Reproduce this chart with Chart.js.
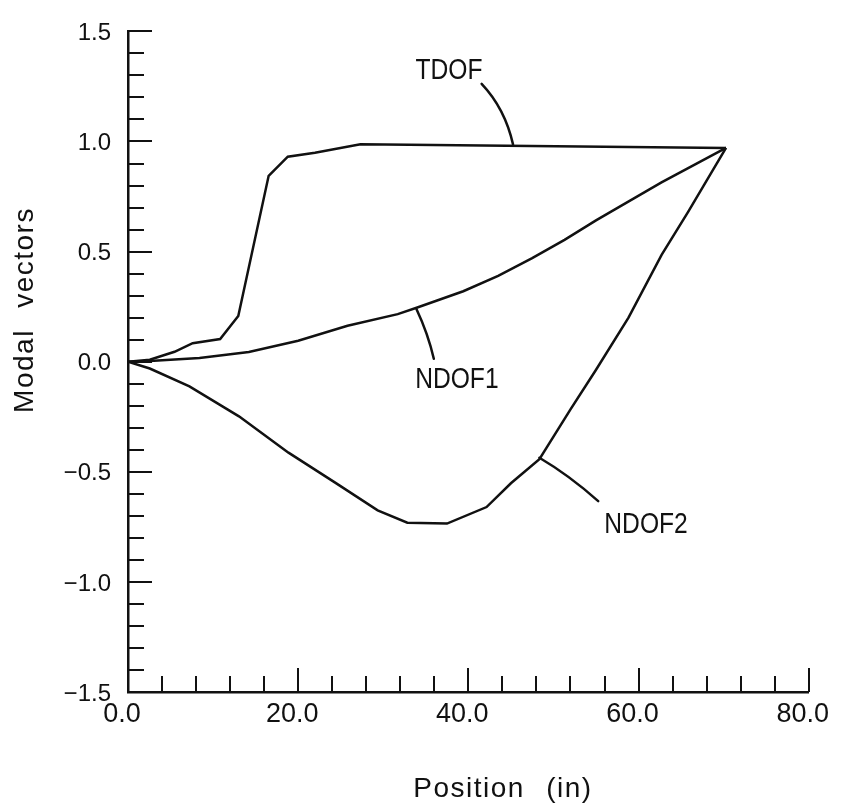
<!DOCTYPE html>
<html>
<head>
<meta charset="utf-8">
<script src="https://cdn.jsdelivr.net/npm/chart.js@4.4.1/dist/chart.umd.min.js"></script>
<style>
  html, body { margin: 0; padding: 0; background: #ffffff; }
  #wrap { width: 841px; height: 812px; position: relative; }
</style>
</head>
<body>
<div id="wrap"><canvas id="c"></canvas></div>
<script>
// ---- Data ----
const tdofX  = [0, 2.56, 5.47, 7.6, 10.83, 12.96, 16.53, 18.78, 21.97, 27.32, 70.28];
const tdofY  = [0, 0.009, 0.045, 0.084, 0.103, 0.208, 0.844, 0.931, 0.949, 0.987, 0.971];

const ndof1X = [0, 2.56, 8.4, 14.2, 20, 25.8, 31.7, 34, 39.4, 43.5, 47.5, 51.3, 55, 62.7, 70.28];
const ndof1Y = [0, 0.003, 0.017, 0.044, 0.095, 0.163, 0.216, 0.246, 0.32, 0.39, 0.47, 0.553, 0.642, 0.814, 0.971];

const ndof2X = [0, 2.56, 7.22, 13.04, 18.86, 24.3, 29.34, 32.83, 37.49, 42.14, 45.0, 48.35, 52.04, 54.95, 58.82, 62.71, 65.81, 70.28];
const ndof2Y = [0, -0.031, -0.112, -0.248, -0.413, -0.548, -0.675, -0.731, -0.735, -0.66, -0.552, -0.443, -0.214, -0.04, 0.2, 0.485, 0.679, 0.971];

const seriesNames = ['TDOF', 'NDOF1', 'NDOF2'];

// ---- Axis ticks ----
const xTickValues = [0, 20, 40, 60, 80];
const xTickLabels = ['0.0', '20.0', '40.0', '60.0', '80.0'];
const xMinorTicks = [4, 8, 12, 16, 24, 28, 32, 36, 44, 48, 52, 56, 64, 68, 72, 76];
const yTickValues = [-1.5, -1.0, -0.5, 0.0, 0.5, 1.0, 1.5];
const yTickLabels = ['\u22121.5', '\u22121.0', '\u22120.5', '0.0', '0.5', '1.0', '1.5'];
const yMinorTicks = [-1.4, -1.3, -1.2, -1.1, -0.9, -0.8, -0.7, -0.6, -0.4, -0.3, -0.2, -0.1,
                     0.1, 0.2, 0.3, 0.4, 0.6, 0.7, 0.8, 0.9, 1.1, 1.2, 1.3, 1.4];

const xTitle = 'Position (in)';
const yTitle = 'Modal vectors';

// Curve labels with leader lines (data coordinates)
const labelText = ['TDOF', 'NDOF1', 'NDOF2'];
const labelX    = [37.72, 38.65, 60.88];
const labelY    = [1.284, -0.121, -0.780];
const leadStartX = [41.56, 33.91, 48.35];
const leadStartY = [1.262, 0.238, -0.436];
const leadCtrlX  = [44.3, 35.27, 51.87];
const leadCtrlY  = [1.15, 0.126, -0.516];
const leadEndX   = [45.25, 35.94, 55.26];
const leadEndY   = [0.987, 0.013, -0.633];

const INK = '#111111';
const FONT = "'Liberation Sans', Arial, Helvetica, sans-serif";

function pts(xs, ys) { return xs.map((x, i) => ({ x: x, y: ys[i] })); }

const bgPlugin = {
  id: 'bg',
  beforeDraw(chart) {
    const ctx = chart.ctx;
    ctx.save();
    ctx.fillStyle = '#ffffff';
    ctx.fillRect(0, 0, chart.width, chart.height);
    ctx.restore();
  }
};

const decoPlugin = {
  id: 'deco',
  afterDraw(chart) {
    const ctx = chart.ctx;
    const xs = chart.scales.x, ys = chart.scales.y;
    const area = chart.chartArea;
    ctx.save();
    ctx.strokeStyle = INK;
    ctx.lineWidth = 2;
    ctx.lineCap = 'butt';
    const tick = (x1, y1, x2, y2) => { ctx.beginPath(); ctx.moveTo(x1, y1); ctx.lineTo(x2, y2); ctx.stroke(); };
    xTickValues.forEach(v => { if (v === 0) return; const p = Math.round(xs.getPixelForValue(v)); tick(p, area.bottom, p, area.bottom - 24); });
    xMinorTicks.forEach(v => { const p = Math.round(xs.getPixelForValue(v)); tick(p, area.bottom, p, area.bottom - 16); });
    yTickValues.forEach(v => { if (v === -1.5) return; const p = Math.round(ys.getPixelForValue(v)); tick(area.left, p, area.left + 24, p); });
    yMinorTicks.forEach(v => { const p = Math.round(ys.getPixelForValue(v)); tick(area.left, p, area.left + 16, p); });

    // leader lines
    ctx.lineWidth = 2.5;
    ctx.lineCap = 'round';
    for (let i = 0; i < labelText.length; i++) {
      ctx.beginPath();
      ctx.moveTo(xs.getPixelForValue(leadStartX[i]), ys.getPixelForValue(leadStartY[i]));
      ctx.quadraticCurveTo(xs.getPixelForValue(leadCtrlX[i]), ys.getPixelForValue(leadCtrlY[i]),
                           xs.getPixelForValue(leadEndX[i]), ys.getPixelForValue(leadEndY[i]));
      ctx.stroke();
    }
    // curve labels
    ctx.fillStyle = INK;
    ctx.font = '30px ' + FONT;
    ctx.textAlign = 'center';
    ctx.textBaseline = 'alphabetic';
    for (let i = 0; i < labelText.length; i++) {
      ctx.save();
      ctx.translate(xs.getPixelForValue(labelX[i]), ys.getPixelForValue(labelY[i]));
      ctx.scale(0.82, 1);
      ctx.fillText(labelText[i], 0, 0);
      ctx.restore();
    }
    // axis titles
    ctx.font = '28px ' + FONT;
    try { ctx.letterSpacing = '1.5px'; ctx.wordSpacing = '12px'; } catch (e) {}
    ctx.textAlign = 'center';
    ctx.fillText(xTitle, 503, 797);
    ctx.save();
    ctx.translate(33, 310);
    ctx.rotate(-Math.PI / 2);
    ctx.fillText(yTitle, 0, 0);
    ctx.restore();
    ctx.restore();
  }
};

const lineStyle = { borderColor: INK, borderWidth: 2.5, pointRadius: 0, tension: 0, fill: false };

new Chart(document.getElementById('c'), {
  type: 'line',
  data: {
    datasets: [
      Object.assign({ label: seriesNames[0], data: pts(tdofX, tdofY) }, lineStyle),
      Object.assign({ label: seriesNames[1], data: pts(ndof1X, ndof1Y) }, lineStyle),
      Object.assign({ label: seriesNames[2], data: pts(ndof2X, ndof2Y) }, lineStyle)
    ]
  },
  options: {
    responsive: true,
    maintainAspectRatio: false,
    devicePixelRatio: 1,
    animation: false,
    layout: { padding: { top: 24, right: 26, left: 0, bottom: 0 } },
    plugins: { legend: { display: false }, tooltip: { enabled: false } },
    scales: {
      x: {
        type: 'linear', min: 0, max: 80,
        afterFit(s) { s.height = 120; },
        afterBuildTicks(s) { s.ticks = xTickValues.map(v => ({ value: v })); },
        grid: { display: false, drawTicks: false },
        border: { display: true, color: INK, width: 2.5 },
        ticks: {
          autoSkip: false, maxRotation: 0, padding: 6, labelOffset: -6, color: INK,
          font: { family: FONT, size: 27 },
          callback: (v, i) => xTickLabels[i]
        },
        title: { display: false }
      },
      y: {
        type: 'linear', min: -1.5, max: 1.5,
        afterFit(s) { s.width = 128; },
        afterBuildTicks(s) { s.ticks = yTickValues.map(v => ({ value: v })); },
        grid: { display: false, drawTicks: false },
        border: { display: true, color: INK, width: 2.5 },
        ticks: {
          autoSkip: false, padding: 17, labelOffset: 2, color: INK,
          font: { family: FONT, size: 24 },
          callback: (v, i) => yTickLabels[i]
        },
        title: { display: false }
      }
    }
  },
  plugins: [bgPlugin, decoPlugin]
});
</script>
</body>
</html>
